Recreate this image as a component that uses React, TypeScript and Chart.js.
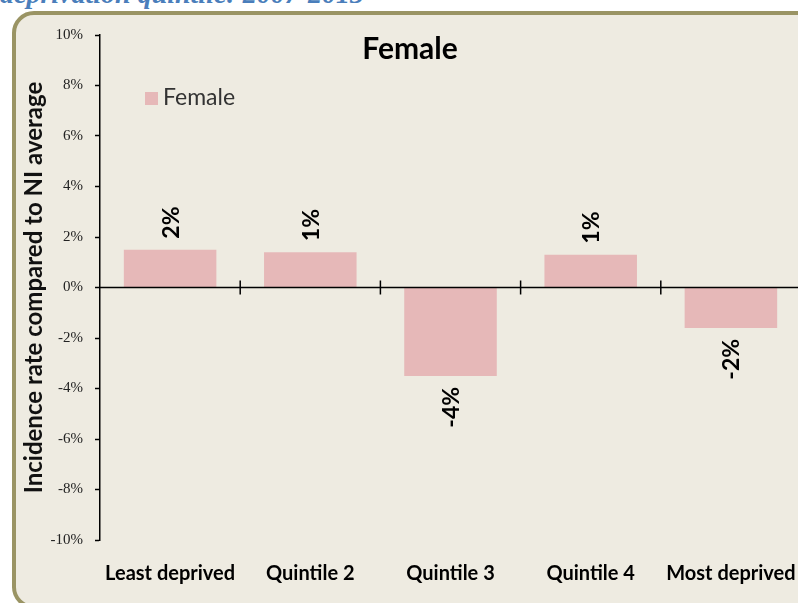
import React, { useEffect, useRef } from 'react';
import { Chart, registerables } from 'chart.js';

Chart.register(...registerables);

const pageHeading = 'deprivation quintile: 2007-2013';
const chartTitle = 'Female';
const seriesName = 'Female';
const yAxisTitle = 'Incidence rate compared to NI average';
const categories = ['Least deprived', 'Quintile 2', 'Quintile 3', 'Quintile 4', 'Most deprived'];
const femaleValues = [1.5, 1.4, -3.5, 1.3, -1.6];
const femaleLabels = ['2%', '1%', '-4%', '1%', '-2%'];
const yMin = -10;
const yMax = 10;
const yStep = 2;

const barColor = '#e6b8b8';

const decorPlugin = {
  id: 'decor',
  afterDatasetsDraw(chart: any) {
    const { ctx, chartArea, scales } = chart;
    const xs = scales.x;
    const ys = scales.y;
    const y0 = ys.getPixelForValue(0);
    ctx.save();
    // zero line
    ctx.strokeStyle = '#000';
    ctx.lineWidth = 1.5;
    ctx.beginPath();
    ctx.moveTo(chartArea.left, y0);
    ctx.lineTo(chartArea.right, y0);
    ctx.stroke();
    // category separator ticks
    const step = xs.getPixelForValue(1) - xs.getPixelForValue(0);
    for (let i = 0; i < categories.length; i++) {
      const xb = xs.getPixelForValue(i) + step / 2;
      ctx.beginPath();
      ctx.moveTo(xb, y0 - 7);
      ctx.lineTo(xb, y0 + 7);
      ctx.stroke();
    }
    // data labels
    const meta = chart.getDatasetMeta(0);
    ctx.font = 'bold 23px Lato';
    ctx.fillStyle = '#000';
    meta.data.forEach((bar: any, i: number) => {
      const v = femaleValues[i];
      const p = bar.getProps(['x', 'y'], true);
      ctx.save();
      ctx.translate(p.x + 1, v >= 0 ? p.y - 11 : p.y + 11);
      ctx.rotate(-Math.PI / 2);
      ctx.textAlign = v >= 0 ? 'left' : 'right';
      ctx.textBaseline = 'middle';
      ctx.fillText(femaleLabels[i], 0, 0);
      ctx.restore();
    });
    // chart title
    ctx.font = 'bold 30px Lato';
    ctx.textAlign = 'center';
    ctx.textBaseline = 'middle';
    ctx.fillStyle = '#000';
    ctx.fillText(chartTitle, chartArea.left + 310, chartArea.top + 14);
    // legend
    ctx.fillStyle = barColor;
    ctx.fillRect(chartArea.left + 45, chartArea.top + 57, 13, 13);
    ctx.font = '23px Lato';
    ctx.fillStyle = '#333';
    ctx.textAlign = 'left';
    ctx.fillText(seriesName, chartArea.left + 63, chartArea.top + 63);
    ctx.restore();
  },
};

function ChartCanvas() {
  const ref = useRef<HTMLCanvasElement | null>(null);
  useEffect(() => {
    if (!ref.current) return;
    const chart = new Chart(ref.current, {
      type: 'bar',
      data: {
        labels: categories,
        datasets: [
          {
            label: seriesName,
            data: femaleValues,
            backgroundColor: barColor,
            borderWidth: 0,
            categoryPercentage: 1,
            barPercentage: 0.66,
          },
        ],
      },
      options: {
        animation: false,
        responsive: false,
        devicePixelRatio: 1,
        layout: { padding: { left: 0, right: 29, top: 35, bottom: 0 } },
        plugins: {
          legend: { display: false },
          title: { display: false },
          tooltip: { enabled: false },
        },
        scales: {
          x: {
            grid: { display: false, drawTicks: false },
            border: { display: false },
            ticks: {
              color: '#000',
              font: { family: 'Lato', weight: 'bold', size: 20 },
              padding: 22,
              maxRotation: 0,
              autoSkip: false,
            },
            afterFit: (s: any) => {
              s.height = 63;
            },
          },
          y: {
            min: yMin,
            max: yMax,
            grid: {
              color: 'rgba(0,0,0,0)',
              tickColor: '#000',
              tickLength: 5,
              tickWidth: 1.5,
              drawTicks: true,
            },
            border: { display: true, color: '#000', width: 1.5 },
            ticks: {
              stepSize: yStep,
              color: '#222',
              font: { family: 'Liberation Serif', size: 15 },
              padding: 12,
              callback: (v: any) => Math.round(Number(v)) + '%',
            },
            title: {
              display: true,
              text: yAxisTitle,
              color: '#111',
              font: { family: 'Lato', weight: 'bold', size: 24 },
              padding: { top: 20, bottom: 0 },
            },
            afterFit: (s: any) => {
              s.width = 100;
            },
          },
        },
      },
      plugins: [decorPlugin],
    });
    return () => chart.destroy();
  }, []);
  return <canvas ref={ref} width={830} height={603} style={{ position: 'absolute', left: 0, top: 0, width: 830, height: 603 }} />;
}

export default function App() {
  return (
    <div style={{ position: 'absolute', left: 0, top: 0, width: 798, height: 603, overflow: 'hidden', background: '#fff' }}>
      <div
        style={{
          position: 'absolute',
          left: 0,
          top: -18,
          fontFamily: 'Liberation Serif',
          fontWeight: 'bold',
          fontStyle: 'italic',
          fontSize: 28,
          lineHeight: '24px',
          color: '#4a7ebb',
          whiteSpace: 'nowrap',
        }}
      >
        {pageHeading}
      </div>
      <div
        style={{
          position: 'absolute',
          left: 12,
          top: 11,
          width: 800,
          height: 590,
          border: '4px solid #9a9464',
          borderRadius: 22,
          background: '#eeebe1',
        }}
      />
      <ChartCanvas />
    </div>
  );
}
